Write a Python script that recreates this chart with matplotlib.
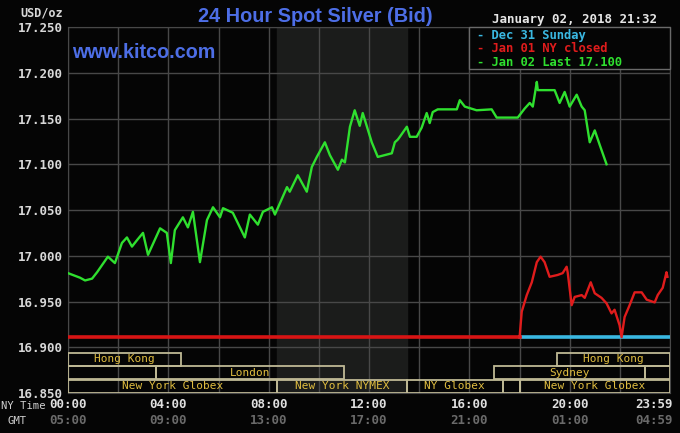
import matplotlib
matplotlib.use('Agg')
import matplotlib.pyplot as plt
from matplotlib.patches import Rectangle
from matplotlib.transforms import blended_transform_factory

# Jan 02 (hours since 00:00 NY time, price)
green_hours = [0, 0.48, 0.68, 0.96, 1.16, 1.59, 1.87, 2.15, 2.35, 2.55, 2.75, 2.99, 3.19,
               3.67, 3.94, 4.10, 4.26, 4.58, 4.78, 4.98, 5.26, 5.54, 5.78, 6.06, 6.18,
               6.57, 7.05, 7.25, 7.57, 7.77, 8.13, 8.25, 8.73, 8.84, 9.16, 9.52, 9.72,
               9.92, 10.24, 10.44, 10.76, 10.92, 11.04, 11.24, 11.43, 11.63, 11.75, 12.11,
               12.35, 12.91, 13.03, 13.15, 13.23, 13.51, 13.63, 13.90, 14.10, 14.30, 14.42,
               14.54, 14.74, 15.50, 15.62, 15.82, 16.29, 16.89, 17.09, 17.93, 18.21, 18.41,
               18.53, 18.69, 18.73, 19.40, 19.60, 19.80, 20.00, 20.28, 20.48, 20.60, 20.80,
               21.00, 21.20, 21.47]
green_prices = [16.981, 16.976, 16.973, 16.975, 16.982, 16.999, 16.992, 17.014, 17.020,
                17.010, 17.017, 17.025, 17.001, 17.030, 17.025, 16.992, 17.028, 17.042,
                17.031, 17.048, 16.993, 17.039, 17.053, 17.042, 17.052, 17.047, 17.020,
                17.045, 17.034, 17.048, 17.053, 17.045, 17.075, 17.070, 17.088, 17.070,
                17.097, 17.108, 17.124, 17.110, 17.094, 17.105, 17.102, 17.141, 17.159,
                17.142, 17.156, 17.124, 17.108, 17.112, 17.124, 17.127, 17.130, 17.141,
                17.130, 17.130, 17.140, 17.156, 17.145, 17.157, 17.160, 17.160, 17.170,
                17.163, 17.159, 17.160, 17.151, 17.151, 17.161, 17.167, 17.163, 17.190,
                17.181, 17.181, 17.167, 17.179, 17.163, 17.176, 17.163, 17.159, 17.124,
                17.137, 17.121, 17.100]

# Jan 01 (NY closed)
red_hours = [0, 18.0, 18.01, 18.09, 18.29, 18.49, 18.69, 18.84, 19.00, 19.20, 19.52, 19.72,
             19.88, 19.92, 20.08, 20.20, 20.48, 20.60, 20.84, 21.00, 21.27, 21.47, 21.67,
             21.79, 21.99, 22.07, 22.19, 22.39, 22.59, 22.87, 23.07, 23.39, 23.51, 23.71,
             23.86, 23.90]
red_prices = [16.911, 16.911, 16.913, 16.939, 16.957, 16.971, 16.993, 16.999, 16.993, 16.977,
              16.979, 16.981, 16.988, 16.982, 16.946, 16.955, 16.957, 16.954, 16.971, 16.959,
              16.954, 16.948, 16.937, 16.941, 16.924, 16.911, 16.933, 16.946, 16.960, 16.960,
              16.952, 16.949, 16.957, 16.965, 16.982, 16.977]

# Dec 31 (Sunday)
cyan_hours = [18.0, 24.0]
cyan_prices = [16.911, 16.911]

y_ticks = [16.85, 16.90, 16.95, 17.00, 17.05, 17.10, 17.15, 17.20, 17.25]
x_tick_hours = [0, 4, 8, 12, 16, 20, 24]
ny_labels = ['00:00', '04:00', '08:00', '12:00', '16:00', '20:00', '23:59']
gmt_labels = ['05:00', '09:00', '13:00', '17:00', '21:00', '01:00', '04:59']

# market sessions: (row, start hour, end hour, label)
sessions = [
    (0, 0, 4.5, 'Hong Kong'), (0, 19.5, 24, 'Hong Kong'),
    (1, 0, 3.5, ''), (1, 3.5, 11, 'London'), (1, 17, 23, 'Sydney'), (1, 23, 24, ''),
    (2, 0, 8.33, 'New York Globex'), (2, 8.33, 13.5, 'New York NYMEX'),
    (2, 13.5, 17.33, 'NY Globex'), (2, 17.33, 18, ''), (2, 18, 24, 'New York Globex'),
]
row_bottoms = [16.8795, 16.865, 16.850]
row_height = 0.0145
nymex_pit = (8.33, 13.5)

mono = 'DejaVu Sans Mono'
bg = '#050505'

fig = plt.figure(figsize=(6.8, 4.33), dpi=100, facecolor=bg)
ax = fig.add_axes([68 / 680, 1 - 393 / 433, 602 / 680, 366 / 433])
ax.set_facecolor(bg)
ax.set_xlim(0, 24)
ax.set_ylim(16.85, 17.25)

ax.axvspan(nymex_pit[0], nymex_pit[1], color='#1b1c1b', zorder=0)

for h in range(0, 25, 2):
    ax.axvline(h, color='#484848', lw=1, zorder=1)
for v in y_ticks:
    ax.axhline(v, color='#484848', lw=1, zorder=1)

for row, s, e, label in sessions:
    ax.add_patch(Rectangle((s, row_bottoms[row]), e - s, row_height, fill=False,
                           edgecolor='#bfb995', lw=1.3, zorder=3))
    if label:
        ax.text((s + e) / 2, row_bottoms[row] + row_height / 2, label, color='#e0bd40',
                family=mono, fontsize=8, ha='center', va='center', zorder=4)

ax.plot(cyan_hours, cyan_prices, color='#3ab8e2', lw=2.6, zorder=5)
ax.plot(red_hours[:2], red_prices[:2], color='#d81414', lw=2.6, zorder=6)
ax.plot(red_hours[1:], red_prices[1:], color='#e01c1c', lw=1.7, zorder=6)
ax.plot(green_hours, green_prices, color='#2fe02f', lw=1.7, zorder=6)

ax.set_yticks(y_ticks)
ax.set_yticklabels([f'{v:.3f}' for v in y_ticks], family=mono, fontsize=9,
                   fontweight='bold', color='#d8d8d8')
ax.set_xticks([])
ax.tick_params(axis='y', length=0, pad=4)
for sp in ax.spines.values():
    sp.set_color('#484848')

tr = blended_transform_factory(ax.transData, fig.transFigure)
for h, ny, gmt in zip(x_tick_hours, ny_labels, gmt_labels):
    ha = 'right' if h == 24 else 'center'
    xx = h + 0.1 if h == 24 else h
    ax.text(xx, 1 - 405 / 433, ny, transform=tr, family=mono, fontsize=9, fontweight='bold',
            color='#e0e0e0', ha=ha, va='center')
    ax.text(xx, 1 - 421 / 433, gmt, transform=tr, family=mono, fontsize=9, fontweight='bold',
            color='#6a6a6a', ha=ha, va='center')
fig.text(1 / 680, 1 - 406 / 433, 'NY Time', family=mono, fontsize=7.6, color='#d0d0d0',
         ha='left', va='center')
fig.text(8 / 680, 1 - 421 / 433, 'GMT', family=mono, fontsize=7.6, color='#d0d0d0',
         ha='left', va='center')

fig.text(63 / 680, 1 - 13 / 433, 'USD/oz', family=mono, fontsize=8.5, fontweight='bold',
         color='#d8d8d8', ha='right', va='center')
fig.text(315 / 680, 1 - 16 / 433, '24 Hour Spot Silver (Bid)', family='Liberation Sans',
         fontsize=14.3, fontweight='bold', color='#4d6ee6', ha='center', va='center')
fig.text(657 / 680, 1 - 20 / 433, 'January 02, 2018 21:32', family=mono, fontsize=9,
         fontweight='bold', color='#e6e6e6', ha='right', va='center')
fig.text(72 / 680, 1 - 52 / 433, 'www.kitco.com', family='Liberation Sans', fontsize=14.2,
         fontweight='bold', color='#4d6ee6', ha='left', va='center')

# legend box
fig.patches.append(Rectangle((469 / 680, 1 - 69 / 433), 201 / 680, 42 / 433,
                             transform=fig.transFigure, facecolor=bg, edgecolor='#6a6a6a',
                             lw=1, zorder=10))
legend_items = [('- Dec 31 Sunday', '#3ab8e2'), ('- Jan 01 NY closed', '#e01c1c'),
                ('- Jan 02 Last 17.100', '#2fe02f')]
for i, (txt, col) in enumerate(legend_items):
    fig.text(477 / 680, 1 - (35 + 13.5 * i) / 433, txt, family=mono, fontsize=8.7,
             fontweight='bold', color=col, ha='left', va='center', zorder=11)

fig.savefig('out.png', dpi=100, facecolor=bg)
